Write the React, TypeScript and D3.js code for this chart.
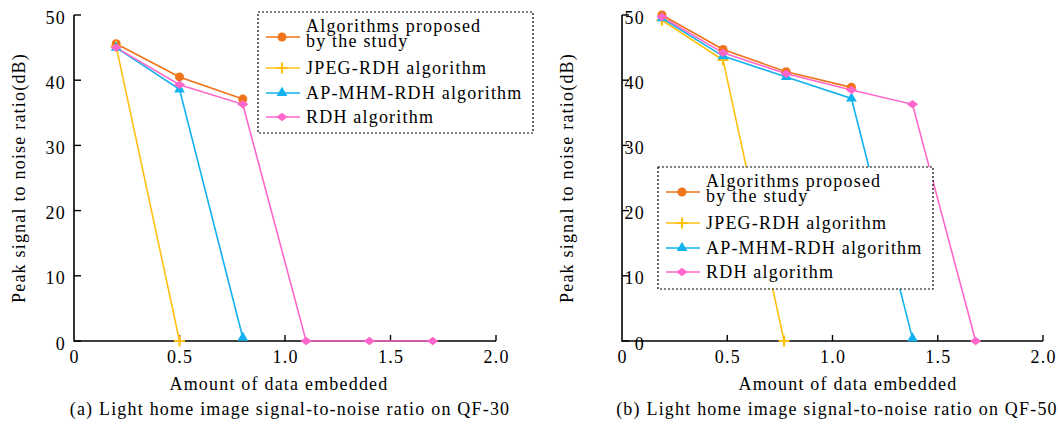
import React from "react";
import * as d3 from "d3";

// ---------- data ----------
const xTicks = [0, 0.5, 1.0, 1.5, 2.0];
const xTickLabels = ["0", "0.5", "1.0", "1.5", "2.0"];
const yTicks = [0, 10, 20, 30, 40, 50];
const yTickLabels = ["0", "10", "20", "30", "40", "50"];

const seriesNames = [
  ["Algorithms proposed", "by the study"],
  ["JPEG-RDH algorithm"],
  ["AP-MHM-RDH algorithm"],
  ["RDH algorithm"],
];

// Panel (a) QF-30
const aProposedX = [0.2, 0.5, 0.8];
const aProposedY = [45.6, 40.5, 37.1];
const aJpegX = [0.2, 0.5];
const aJpegY = [45.2, 0];
const aApX = [0.2, 0.5, 0.8];
const aApY = [45.0, 38.6, 0.5];
const aRdhX = [0.2, 0.5, 0.8, 1.1, 1.4, 1.7];
const aRdhY = [45.0, 39.3, 36.3, 0, 0, 0];

// Panel (b) QF-50
const bProposedX = [0.19, 0.48, 0.78, 1.09];
const bProposedY = [50.0, 44.7, 41.3, 38.9];
const bJpegX = [0.19, 0.48, 0.77];
const bJpegY = [49.2, 43.1, 0];
const bApX = [0.19, 0.48, 0.78, 1.09, 1.38];
const bApY = [49.5, 43.7, 40.5, 37.2, 0.4];
const bRdhX = [0.19, 0.48, 0.78, 1.09, 1.38, 1.68];
const bRdhY = [49.7, 44.2, 41.0, 38.5, 36.3, 0];

const xAxisTitle = "Amount of data embedded";
const yAxisTitle = "Peak signal to noise ratio(dB)";
const captionA = "(a) Light home image signal-to-noise ratio on QF-30";
const captionB = "(b) Light home image signal-to-noise ratio on QF-50";

// ---------- styles ----------
const COLORS = ["#EE7319", "#FFC012", "#12B2EE", "#FF66CC"];
const SHAPES = ["circle", "plus", "triangle", "diamond"];
const FONT = "'Liberation Serif', 'Times New Roman', serif";
const FS = 18;
const LS = 1.2;

function zip(xs: number[], ys: number[]) {
  return xs.map((x, i) => [x, ys[i]] as [number, number]);
}

const triPath = d3.symbol().type(d3.symbolTriangle).size(50)() as string;

function Marker({ shape, color, x, y }: { shape: string; color: string; x: number; y: number }) {
  const t = `translate(${x},${y})`;
  if (shape === "circle") return <circle cx={x} cy={y} r={4.5} fill={color} />;
  if (shape === "plus")
    return <path transform={t} d="M-5.5,0H5.5M0,-5.5V5.5" stroke={color} strokeWidth={2.2} fill="none" />;
  if (shape === "triangle") return <path transform={t} d={triPath} fill={color} />;
  return <path transform={t} d="M0,-4.2L5.6,0L0,4.2L-5.6,0Z" fill={color} />;
}

type PanelCfg = {
  x0: number;
  x1: number;
  yTop: number;
  yBot: number;
  yLabelX: number;
  yTitleX: number;
  legend: { x: number; y: number; w: number; h: number };
  series: [number, number][][];
  xTitleX: number;
  captionX: number;
  caption: string;
};

function Panel({ cfg }: { cfg: PanelCfg }) {
  const xs = d3.scaleLinear().domain([0, 2]).range([cfg.x0, cfg.x1]);
  const ys = d3.scaleLinear().domain([0, 50]).range([cfg.yBot, cfg.yTop]);
  const line = d3
    .line<[number, number]>()
    .x((d) => xs(d[0]))
    .y((d) => ys(d[1]));
  const lg = cfg.legend;
  const itemY = [25, 56, 81, 105];
  return (
    <g>
      {/* axes */}
      <path
        d={`M${cfg.x0},${ys(50)}V${ys(0)}H${cfg.x1}`}
        fill="none"
        stroke="#000"
        strokeWidth={1.6}
      />
      {yTicks.map((t) => (
        <line key={"yt" + t} x1={cfg.x0} x2={cfg.x0 + 7} y1={ys(t)} y2={ys(t)} stroke="#000" strokeWidth={1.4} />
      ))}
      {xTicks.slice(1).map((t) => (
        <line key={"xt" + t} x1={xs(t)} x2={xs(t)} y1={ys(0)} y2={ys(0) - 6} stroke="#000" strokeWidth={1.4} />
      ))}
      {/* series lines */}
      {cfg.series.map((s, i) => (
        <path key={"l" + i} d={line(s) as string} fill="none" stroke={COLORS[i]} strokeWidth={1.6} />
      ))}
      {cfg.series.map((s, i) =>
        s.map((p, j) => <Marker key={"m" + i + "-" + j} shape={SHAPES[i]} color={COLORS[i]} x={xs(p[0])} y={ys(p[1])} />)
      )}
      {/* tick labels */}
      {yTicks.map((t, i) => (
        <text
          key={"yl" + t}
          x={cfg.yLabelX}
          y={ys(t)}
          dy="0.48em"
          textAnchor="end"
          fontFamily={FONT}
          fontSize={FS}
          letterSpacing={LS}
        >
          {yTickLabels[i]}
        </text>
      ))}
      {xTicks.map((t, i) => (
        <text
          key={"xl" + t}
          x={xs(t) + LS / 2}
          y={ys(0) + 22}
          textAnchor="middle"
          fontFamily={FONT}
          fontSize={FS}
          letterSpacing={LS}
        >
          {xTickLabels[i]}
        </text>
      ))}
      {/* axis titles */}
      <text
        transform={`translate(${cfg.yTitleX},${(cfg.yTop + cfg.yBot) / 2}) rotate(-90)`}
        textAnchor="middle"
        dy="0.35em"
        fontFamily={FONT}
        fontSize={FS}
        letterSpacing={LS}
      >
        {yAxisTitle}
      </text>
      <text x={cfg.xTitleX} y={390} textAnchor="middle" fontFamily={FONT} fontSize={FS} letterSpacing={LS}>
        {xAxisTitle}
      </text>
      <text x={cfg.captionX} y={415} textAnchor="middle" fontFamily={FONT} fontSize={FS} letterSpacing={LS}>
        {cfg.caption}
      </text>
      {/* legend */}
      <rect
        x={lg.x}
        y={lg.y}
        width={lg.w}
        height={lg.h}
        fill="#fff"
        stroke="#000"
        strokeWidth={1.2}
        strokeDasharray="2,2"
      />
      {seriesNames.map((names, i) => {
        const ly = lg.y + itemY[i];
        return (
          <g key={"lg" + i}>
            <line x1={lg.x + 8} x2={lg.x + 42} y1={ly} y2={ly} stroke={COLORS[i]} strokeWidth={1.6} />
            <Marker shape={SHAPES[i]} color={COLORS[i]} x={lg.x + 24} y={ly} />
            {names.length === 2 ? (
              <text x={lg.x + 48} y={lg.y + 20} fontFamily={FONT} fontSize={FS} letterSpacing={LS}>
                <tspan x={lg.x + 48} y={lg.y + 20}>
                  {names[0]}
                </tspan>
                <tspan x={lg.x + 48} y={lg.y + 35}>
                  {names[1]}
                </tspan>
              </text>
            ) : (
              <text x={lg.x + 48} y={ly + 5.5} fontFamily={FONT} fontSize={FS} letterSpacing={LS}>
                {names[0]}
              </text>
            )}
          </g>
        );
      })}
    </g>
  );
}

export default function App() {
  const panelA: PanelCfg = {
    x0: 74,
    x1: 496,
    yTop: 15,
    yBot: 341,
    yLabelX: 66,
    yTitleX: 19,
    legend: { x: 258, y: 12, w: 275, h: 121 },
    series: [zip(aProposedX, aProposedY), zip(aJpegX, aJpegY), zip(aApX, aApY), zip(aRdhX, aRdhY)],
    xTitleX: 279,
    captionX: 290,
    caption: captionA,
  };
  const panelB: PanelCfg = {
    x0: 622,
    x1: 1043,
    yTop: 15,
    yBot: 341,
    yLabelX: 645,
    yTitleX: 567,
    legend: { x: 658, y: 167, w: 275, h: 122 },
    series: [zip(bProposedX, bProposedY), zip(bJpegX, bJpegY), zip(bApX, bApY), zip(bRdhX, bRdhY)],
    xTitleX: 848,
    captionX: 837,
    caption: captionB,
  };
  return (
    <svg
      width={1058}
      height={428}
      style={{ position: "absolute", left: 0, top: 0, background: "#fff" }}
    >
      <rect width={1058} height={428} fill="#fff" />
      <Panel cfg={panelA} />
      <Panel cfg={panelB} />
    </svg>
  );
}
